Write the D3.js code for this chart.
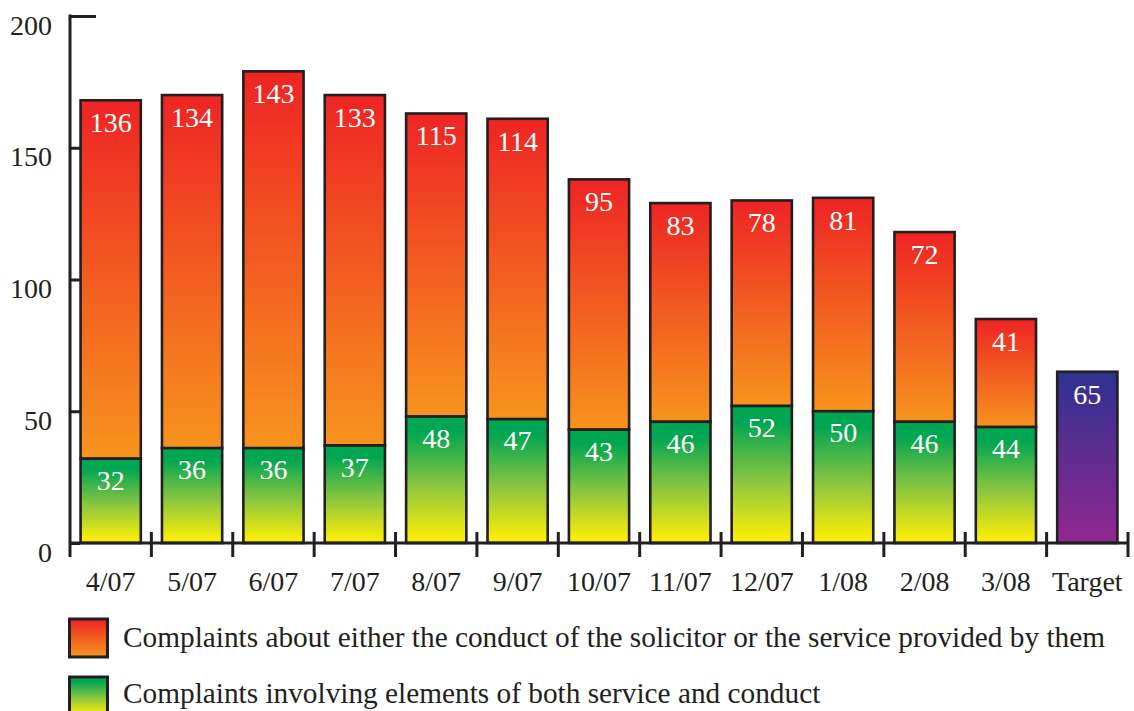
<!DOCTYPE html>
<html>
<head>
<meta charset="utf-8">
<script src="https://cdn.jsdelivr.net/npm/d3@7/dist/d3.min.js"></script>
<style>
  html, body { margin: 0; padding: 0; background: #fff; }
  svg { display: block; }
  svg text { font-family: "Liberation Serif", "Times New Roman", serif; }
</style>
</head>
<body>
<svg id="chart" width="1134" height="711"></svg>
<script>
// Monthly complaint counts, April 2007 – March 2008, plus the target level
const categories = ["4/07", "5/07", "6/07", "7/07", "8/07", "9/07", "10/07", "11/07", "12/07", "1/08", "2/08", "3/08", "Target"];
const months = categories.slice(0, 12);
const bothValues = [32, 36, 36, 37, 48, 47, 43, 46, 52, 50, 46, 44];
const eitherValues = [136, 134, 143, 133, 115, 114, 95, 83, 78, 81, 72, 41];
const targetValue = 65;
const yTicks = [0, 50, 100, 150, 200];
const legendLabels = [
  "Complaints about either the conduct of the solicitor or the service provided by them",
  "Complaints involving elements of both service and conduct"
];

const ink = "#231f20";
const serif = "'Liberation Serif', 'Times New Roman', serif";
const svg = d3.select("#chart");

// Gradients
const defs = svg.append("defs");
function grad(id, stops) {
  const g = defs.append("linearGradient").attr("id", id)
    .attr("x1", 0).attr("y1", 0).attr("x2", 0).attr("y2", 1);
  stops.forEach(([o, c]) => g.append("stop").attr("offset", o).attr("stop-color", c));
}
grad("gRed", [[0, "#ee2424"], [1, "#f7941d"]]);
grad("gGreen", [[0, "#00a651"], [0.12, "#00a651"], [0.55, "#8cc63f"], [0.95, "#f7ec0a"], [1, "#f7ec0a"]]);
grad("gTarget", [[0, "#2e3192"], [1, "#92278f"]]);

// Scales
const x = d3.scaleBand().domain(categories).range([70, 1128]).paddingInner(0.26).paddingOuter(0.13);
const y = d3.scaleLinear().domain([0, 200]).range([543, 16]);

// Bars: lower "both" segment, upper "either" segment
const g = svg.append("g");
const barStroke = 2.6;
const valueSize = 28;

function valueLabel(cx, top, v) {
  g.append("text")
    .attr("x", cx).attr("y", top + 32)
    .attr("text-anchor", "middle").attr("fill", "#fff")
    .attr("font-family", serif).attr("font-size", valueSize)
    .text(v);
}

months.forEach((m, i) => {
  const b = bothValues[i], e = eitherValues[i];
  const cx = x(m) + x.bandwidth() / 2;
  g.append("rect")
    .attr("x", x(m)).attr("width", x.bandwidth())
    .attr("y", y(b + e)).attr("height", y(b) - y(b + e))
    .attr("fill", "url(#gRed)").attr("stroke", ink).attr("stroke-width", barStroke);
  g.append("rect")
    .attr("x", x(m)).attr("width", x.bandwidth())
    .attr("y", y(b)).attr("height", y(0) - y(b))
    .attr("fill", "url(#gGreen)").attr("stroke", ink).attr("stroke-width", barStroke);
  valueLabel(cx, y(b + e), e);
  valueLabel(cx, y(b) - 1, b);
});

g.append("rect")
  .attr("x", x("Target")).attr("width", x.bandwidth())
  .attr("y", y(targetValue)).attr("height", y(0) - y(targetValue))
  .attr("fill", "url(#gTarget)").attr("stroke", ink).attr("stroke-width", barStroke);
valueLabel(x("Target") + x.bandwidth() / 2, y(targetValue), targetValue);

// Y axis
const yAxis = svg.append("g").attr("transform", "translate(70,0)")
  .call(d3.axisLeft(y).tickValues(yTicks).tickSize(-10).tickPadding(18));
yAxis.attr("font-family", serif);
yAxis.select(".domain").remove();
yAxis.selectAll(".tick line").attr("stroke", ink).attr("stroke-width", 3)
  .attr("x2", d => d === 200 ? 26 : 10);
yAxis.selectAll(".tick text").attr("font-size", 28).attr("fill", ink)
  .attr("font-family", serif).attr("dy", 0).attr("y", 18);
svg.append("line").attr("x1", 70).attr("x2", 70).attr("y1", y(200) - 1.5).attr("y2", 557)
  .attr("stroke", ink).attr("stroke-width", 3);

// X axis
const xAxis = svg.append("g").attr("transform", `translate(0,${y(0)})`)
  .call(d3.axisBottom(x).tickSize(0).tickPadding(28));
xAxis.attr("font-family", serif);
xAxis.select(".domain").remove();
xAxis.selectAll(".tick text").attr("font-size", 28).attr("fill", ink)
  .attr("font-family", serif);
svg.append("line").attr("x1", 70).attr("x2", 1128).attr("y1", y(0)).attr("y2", y(0))
  .attr("stroke", ink).attr("stroke-width", 3);
d3.range(1, categories.length + 1).forEach(i => {
  const bx = x.range()[0] + i * x.step();
  svg.append("line").attr("x1", bx).attr("x2", bx).attr("y1", y(0) - 11).attr("y2", y(0) + 14)
    .attr("stroke", ink).attr("stroke-width", 3);
});

// Legend
const legend = svg.append("g");
const legendFills = ["url(#gRed)", "url(#gGreen)"];
legendLabels.forEach((t, i) => {
  const ly = 619 + i * 58;
  legend.append("rect").attr("x", 69.5).attr("y", ly).attr("width", 38).attr("height", 38)
    .attr("fill", legendFills[i]).attr("stroke", ink).attr("stroke-width", 3);
  legend.append("text").attr("x", 123).attr("y", ly + 28 - i * 2)
    .attr("font-family", serif).attr("font-size", 29.3).attr("fill", ink).text(t);
});
</script>
</body>
</html>
